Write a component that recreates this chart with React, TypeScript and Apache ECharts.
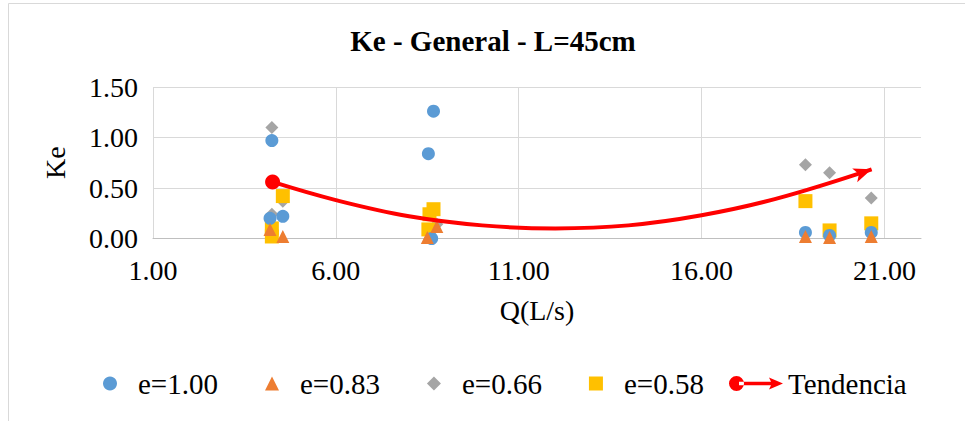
import React, { useEffect, useRef } from "react";
import * as echarts from "echarts";

// Measured points per relative opening e: [Q (L/s), Ke]
const E100: [number, number][] = [
  [4.25, 0.97], [4.55, 0.22], [4.2, 0.2],
  [8.67, 1.26], [8.53, 0.84], [8.62, 0.0],
  [18.84, 0.06], [19.5, 0.03], [20.64, 0.06],
];
const E083: [number, number][] = [
  [4.2, 0.09], [4.55, 0.02],
  [8.5, 0.01], [8.76, 0.12],
  [18.84, 0.02], [19.5, 0.01], [20.64, 0.02],
];
const E066: [number, number][] = [
  [4.25, 1.1], [4.25, 0.24], [4.55, 0.37],
  [8.62, 0.01], [8.76, 0.14],
  [18.84, 0.73], [19.5, 0.65], [20.64, 0.4],
];
const E058: [number, number][] = [
  [4.55, 0.42], [4.25, 0.1], [4.25, 0.02],
  [8.67, 0.29], [8.56, 0.24], [8.53, 0.09],
  [18.84, 0.37], [19.5, 0.08], [20.64, 0.15],
];

// Trend curve
const TREND_Q = [4.27, 6, 8, 10, 12, 14, 16, 18, 20.65];
const TREND_KE = [0.56, 0.38, 0.22, 0.13, 0.1, 0.13, 0.23, 0.39, 0.685];

const SERIES_NAMES = ["e=1.00", "e=0.83", "e=0.66", "e=0.58"];
const TREND_NAME = "Tendencia";

const FONT = "Liberation Serif";
const GRID_COLOR = "#d9d9d9";

const TREND_ICON =
  "path://M0,7.5 A7.5,7.5 0 1,0 15,7.5 A7.5,7.5 0 1,0 0,7.5 Z M10,5.75 L42,5.75 L40,1.5 L54,7.5 L40,13.5 L42,9.25 L10,9.25 Z";

export default function App() {
  const ref = useRef<HTMLDivElement>(null);

  useEffect(() => {
    if (!ref.current) return;
    const chart = echarts.init(ref.current, undefined, { renderer: "svg" });

    const last = TREND_Q.length - 1;
    const trendData = TREND_Q.map((q, i) => {
      if (i === 0) return { value: [q, TREND_KE[i]], symbol: "circle", symbolSize: 15 };
      if (i === last)
        return { value: [q, TREND_KE[i]], symbol: "arrow", symbolSize: [11, 18], symbolRotate: -70 };
      return { value: [q, TREND_KE[i]], symbol: "none" };
    });

    const scatter = (name: string, data: [number, number][], symbol: string, size: number, color: string, z: number) => ({
      name,
      type: "scatter",
      data,
      symbol,
      symbolSize: size,
      itemStyle: { color, opacity: 1 },
      z,
    });

    chart.setOption({
      animation: false,
      backgroundColor: "#ffffff",
      textStyle: { fontFamily: FONT },
      title: {
        text: "Ke - General - L=45cm",
        left: 493,
        top: 26,
        padding: 0,
        textAlign: "center",
        textStyle: { fontFamily: FONT, fontWeight: "bold", fontSize: 29, color: "#000" },
      },
      grid: { left: 153, right: 44, top: 87, bottom: 182.5, containLabel: false },
      xAxis: {
        type: "value",
        min: 1,
        max: 22,
        interval: 5,
        name: "Q(L/s)",
        nameLocation: "middle",
        nameGap: 58,
        nameTextStyle: { fontFamily: FONT, fontSize: 28, color: "#000" },
        axisLine: { show: true, onZero: true, lineStyle: { color: "#bfbfbf", width: 1 } },
        axisTick: { show: false },
        axisLabel: {
          showMaxLabel: false,
          margin: 18,
          fontFamily: FONT,
          fontSize: 28,
          color: "#000",
          formatter: (v: number) => v.toFixed(2),
        },
        splitLine: { show: true, showMaxLine: false, lineStyle: { color: GRID_COLOR, width: 1 } },
      },
      yAxis: {
        type: "value",
        min: 0,
        max: 1.5,
        interval: 0.5,
        name: "Ke",
        nameLocation: "middle",
        nameGap: 84,
        nameTextStyle: { fontFamily: FONT, fontSize: 28, color: "#000" },
        axisLine: { show: false },
        axisTick: { show: false },
        axisLabel: {
          margin: 15,
          fontFamily: FONT,
          fontSize: 28,
          color: "#000",
          formatter: (v: number) => v.toFixed(2),
        },
        splitLine: { show: true, lineStyle: { color: GRID_COLOR, width: 1 } },
      },
      legend: [
        {
          data: SERIES_NAMES,
          left: 103,
          top: 369,
          padding: 0,
          itemWidth: 14,
          itemHeight: 14,
          itemGap: 47,
          textStyle: { fontFamily: FONT, fontSize: 29, color: "#000", padding: [0, 0, 0, 16] },
        },
        {
          data: [{ name: TREND_NAME, icon: TREND_ICON }],
          left: 729,
          top: 369,
          padding: 0,
          itemWidth: 54,
          itemHeight: 15,
          textStyle: { fontFamily: FONT, fontSize: 29, color: "#000" },
        },
      ],
      graphic: [
        {
          type: "rect",
          shape: { x: 8.5, y: 3.5, width: 1000, height: 1000 },
          style: { fill: "none", stroke: "#d9d9d9", lineWidth: 1 },
          silent: true,
          z: -1,
        },
      ],
      series: [
        scatter(SERIES_NAMES[0], E100, "circle", 13, "#5B9BD5", 4),
        scatter(SERIES_NAMES[1], E083, "triangle", 13, "#ED7D31", 5),
        scatter(SERIES_NAMES[2], E066, "diamond", 13, "#A5A5A5", 2),
        scatter(SERIES_NAMES[3], E058, "rect", 14, "#FFC000", 3),
        {
          name: TREND_NAME,
          type: "line",
          data: trendData,
          smooth: 0.4,
          showSymbol: true,
          symbol: "none",
          lineStyle: { color: "#FF0000", width: 4 },
          itemStyle: { color: "#FF0000", borderWidth: 0 },
          z: 6,
        },
      ],
    });

    // Make sure every SVG text uses the serif family the layout was measured with.
    ref.current.querySelectorAll("text").forEach((t) => {
      (t as SVGTextElement).style.fontFamily = '"Liberation Serif", serif';
    });

    return () => chart.dispose();
  }, []);

  return (
    <div
      ref={ref}
      style={{ position: "fixed", left: 0, top: 0, width: 965, height: 421, background: "#fff" }}
    />
  );
}
